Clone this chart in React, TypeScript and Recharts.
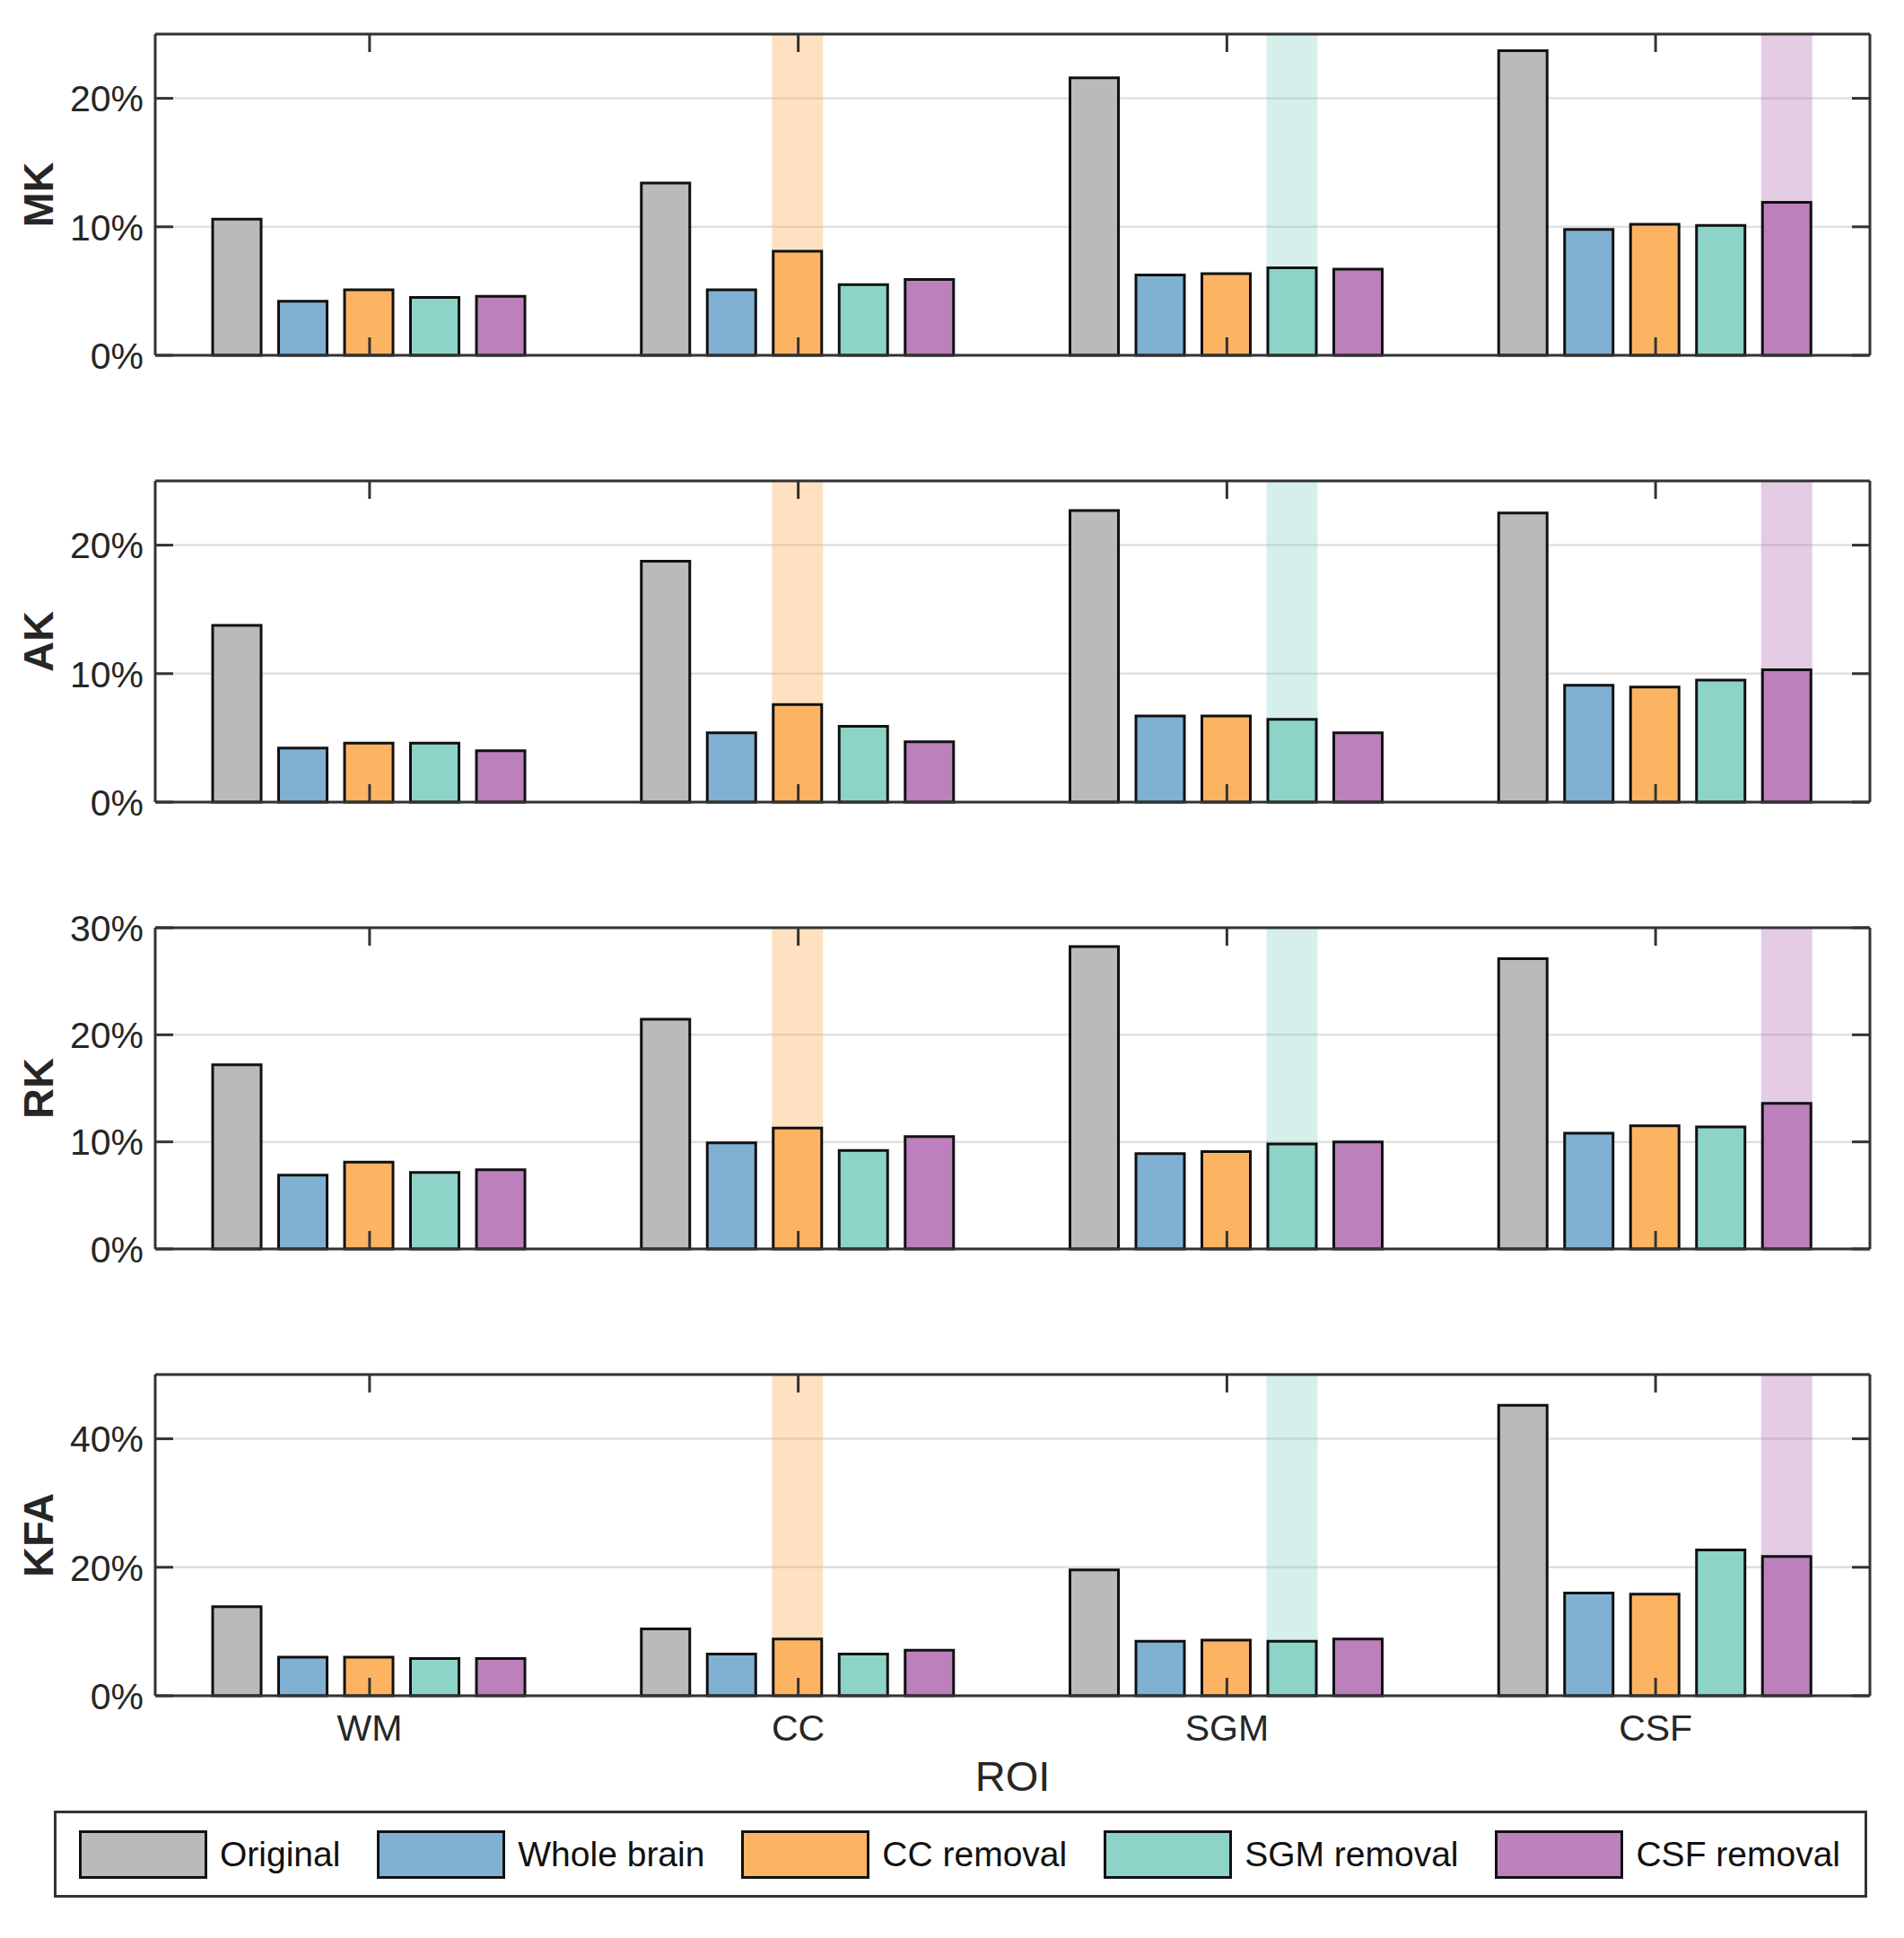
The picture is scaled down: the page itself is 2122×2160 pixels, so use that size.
import React from "react";
import { BarChart, Bar, XAxis, YAxis, CartesianGrid } from "recharts";

const ROIS = ["WM", "CC", "SGM", "CSF"];
const SERIES = ["Original", "Whole brain", "CC removal", "SGM removal", "CSF removal"];
const KEYS = ["original", "whole", "cc", "sgm", "csf"];
const COLORS = ["#BABABA", "#80B1D3", "#FDB462", "#8DD3C7", "#BC80BD"];
// which ROI column gets the shaded band for each series
const HIGHLIGHT = [null, null, "CC", "SGM", "CSF"];
const SHADE_OPACITY = [0, 0, 0.4, 0.36, 0.4];

// values in %
const MK_ORIGINAL = [10.6, 13.4, 21.6, 23.7];
const MK_WHOLE = [4.2, 5.1, 6.25, 9.8];
const MK_CC = [5.1, 8.1, 6.35, 10.2];
const MK_SGM = [4.5, 5.5, 6.8, 10.1];
const MK_CSF = [4.6, 5.9, 6.7, 11.9];

const AK_ORIGINAL = [13.75, 18.75, 22.7, 22.5];
const AK_WHOLE = [4.2, 5.4, 6.7, 9.1];
const AK_CC = [4.6, 7.6, 6.7, 8.95];
const AK_SGM = [4.6, 5.9, 6.45, 9.5];
const AK_CSF = [4.0, 4.7, 5.4, 10.3];

const RK_ORIGINAL = [17.2, 21.45, 28.25, 27.1];
const RK_WHOLE = [6.9, 9.9, 8.9, 10.8];
const RK_CC = [8.1, 11.3, 9.1, 11.5];
const RK_SGM = [7.15, 9.2, 9.8, 11.4];
const RK_CSF = [7.4, 10.5, 10.0, 13.6];

const KFA_ORIGINAL = [13.85, 10.4, 19.6, 45.2];
const KFA_WHOLE = [6.0, 6.5, 8.5, 16.0];
const KFA_CC = [6.0, 8.85, 8.65, 15.8];
const KFA_SGM = [5.8, 6.5, 8.5, 22.7];
const KFA_CSF = [5.8, 7.1, 8.85, 21.7];

const MK_TICKS = [0, 10, 20];
const AK_TICKS = [0, 10, 20];
const RK_TICKS = [0, 10, 20, 30];
const KFA_TICKS = [0, 20, 40];

const PANELS = [
  { name: "MK", series: [MK_ORIGINAL, MK_WHOLE, MK_CC, MK_SGM, MK_CSF], max: 25, ticks: MK_TICKS },
  { name: "AK", series: [AK_ORIGINAL, AK_WHOLE, AK_CC, AK_SGM, AK_CSF], max: 25, ticks: AK_TICKS },
  { name: "RK", series: [RK_ORIGINAL, RK_WHOLE, RK_CC, RK_SGM, RK_CSF], max: 30, ticks: RK_TICKS },
  { name: "KFA", series: [KFA_ORIGINAL, KFA_WHOLE, KFA_CC, KFA_SGM, KFA_CSF], max: 50, ticks: KFA_TICKS },
];

const FONT = "'Liberation Sans', Arial, Helvetica, sans-serif";
const TEXT = "#262626";
const AXIS = "#333333";
const W = 2122;
const PLOT_LEFT = 173;
const PLOT_RIGHT = 2084;
const PLOT_H = 358;
const PLOT_TOPS = [38, 536, 1034, 1532];
const MT = 32;
const TICK_LEN = 20;
const Y_MARGIN = 13;

function YTick(props: any) {
  const { x, y, payload } = props;
  return (
    <g>
      <line x1={x + Y_MARGIN} x2={x + Y_MARGIN + TICK_LEN} y1={y} y2={y} stroke={AXIS} strokeWidth={3} />
      <text x={x} y={y} dy="0.36em" textAnchor="end" fontSize={41} fill={TEXT} fontFamily={FONT}>
        {payload.value}%
      </text>
    </g>
  );
}

function XTick(props: any) {
  const { x, y, payload, showLabel } = props;
  return (
    <g>
      <line x1={x} x2={x} y1={y} y2={y - TICK_LEN} stroke={AXIS} strokeWidth={3} />
      {showLabel && (
        <text x={x} y={y + 50} textAnchor="middle" fontSize={41} fill={TEXT} fontFamily={FONT}>
          {payload.value}
        </text>
      )}
    </g>
  );
}

const NoLabel = () => <g />;

function Panel({ panel, index }: { panel: (typeof PANELS)[number]; index: number }) {
  const last = index === PANELS.length - 1;
  const xh = last ? 120 : 32;
  const rows = ROIS.map((roi, i) => {
    const row: Record<string, any> = { roi };
    KEYS.forEach((k, s) => (row[k] = panel.series[s][i]));
    return row;
  });

  return (
    <div style={{ position: "absolute", left: 0, top: PLOT_TOPS[index] - MT }}>
      <BarChart
        width={W}
        height={MT + PLOT_H + xh}
        data={rows}
        margin={{ top: MT, right: W - PLOT_RIGHT, bottom: 0, left: 0 }}
        barGap={19.5}
        barCategoryGap={64}
      >
        <CartesianGrid vertical={false} stroke="#DFDFDF" strokeWidth={2.5} />
        {KEYS.map((k, s) => (
          <Bar
            key={k}
            dataKey={k}
            name={SERIES[s]}
            fill={COLORS[s]}
            stroke="#111111"
            strokeWidth={3}
            isAnimationActive={false}
            background={(bg: any) => {
              const roi = bg.payload?.roi ?? ROIS[bg.index];
              if (!HIGHLIGHT[s] || roi !== HIGHLIGHT[s]) return <g key={`bg-${k}-${bg.index}`} />;
              return (
                <rect
                  key={`bg-${k}-${bg.index}`}
                  x={bg.x - 1.5}
                  y={bg.y}
                  width={bg.width + 3}
                  height={bg.height}
                  fill={COLORS[s]}
                  fillOpacity={SHADE_OPACITY[s]}
                />
              );
            }}
          />
        ))}
        <XAxis
          dataKey="roi"
          height={xh}
          tickSize={0}
          tickMargin={0}
          tickLine={false}
          axisLine={{ stroke: AXIS, strokeWidth: 3 }}
          tick={(p: any) => <XTick {...p} showLabel={last} />}
          interval={0}
          label={
            last
              ? { value: "ROI", position: "insideBottom", offset: 14, fontSize: 47, fill: TEXT, fontFamily: FONT }
              : undefined
          }
        />
        <XAxis
          xAxisId="top"
          dataKey="roi"
          orientation="top"
          mirror
          height={1}
          tick={NoLabel}
          tickSize={TICK_LEN}
          tickLine={{ stroke: AXIS, strokeWidth: 3 }}
          axisLine={{ stroke: AXIS, strokeWidth: 3 }}
          interval={0}
        />
        <YAxis
          width={PLOT_LEFT}
          domain={[0, panel.max]}
          ticks={panel.ticks}
          interval={0}
          tickSize={0}
          tickMargin={Y_MARGIN}
          tickLine={false}
          axisLine={{ stroke: AXIS, strokeWidth: 3 }}
          tick={(p: any) => <YTick {...p} />}
          label={{
            value: panel.name,
            angle: -90,
            position: "insideLeft",
            offset: 42,
            fontSize: 47,
            fontWeight: 700,
            fill: TEXT,
            fontFamily: FONT,
            style: { textAnchor: "middle" },
          }}
        />
        <YAxis
          yAxisId="right"
          orientation="right"
          mirror
          width={1}
          domain={[0, panel.max]}
          ticks={panel.ticks}
          allowDataOverflow
          interval={0}
          tick={NoLabel}
          tickSize={TICK_LEN}
          tickLine={{ stroke: AXIS, strokeWidth: 3 }}
          axisLine={{ stroke: AXIS, strokeWidth: 3 }}
        />
      </BarChart>
    </div>
  );
}

function LegendBox() {
  return (
    <div
      style={{
        position: "absolute",
        left: 60,
        top: 2018,
        width: 2021,
        height: 97,
        boxSizing: "border-box",
        border: `3px solid ${AXIS}`,
        display: "flex",
        alignItems: "center",
        justifyContent: "space-between",
        padding: "0 27px 0 25px",
        fontFamily: FONT,
      }}
    >
      {SERIES.map((name, s) => (
        <div key={name} style={{ display: "flex", alignItems: "center" }}>
          <div
            style={{
              width: 143,
              height: 54,
              boxSizing: "border-box",
              background: COLORS[s],
              border: "3px solid #111111",
            }}
          />
          <span style={{ marginLeft: 14, fontSize: 39, color: "#111111", lineHeight: 1 }}>{name}</span>
        </div>
      ))}
    </div>
  );
}

export default function App() {
  return (
    <div style={{ position: "relative", width: W, height: 2160, background: "#ffffff", fontFamily: FONT }}>
      <style>{"body{margin:0}"}</style>
      {PANELS.map((p, i) => (
        <Panel key={p.name} panel={p} index={i} />
      ))}
      <LegendBox />
    </div>
  );
}
